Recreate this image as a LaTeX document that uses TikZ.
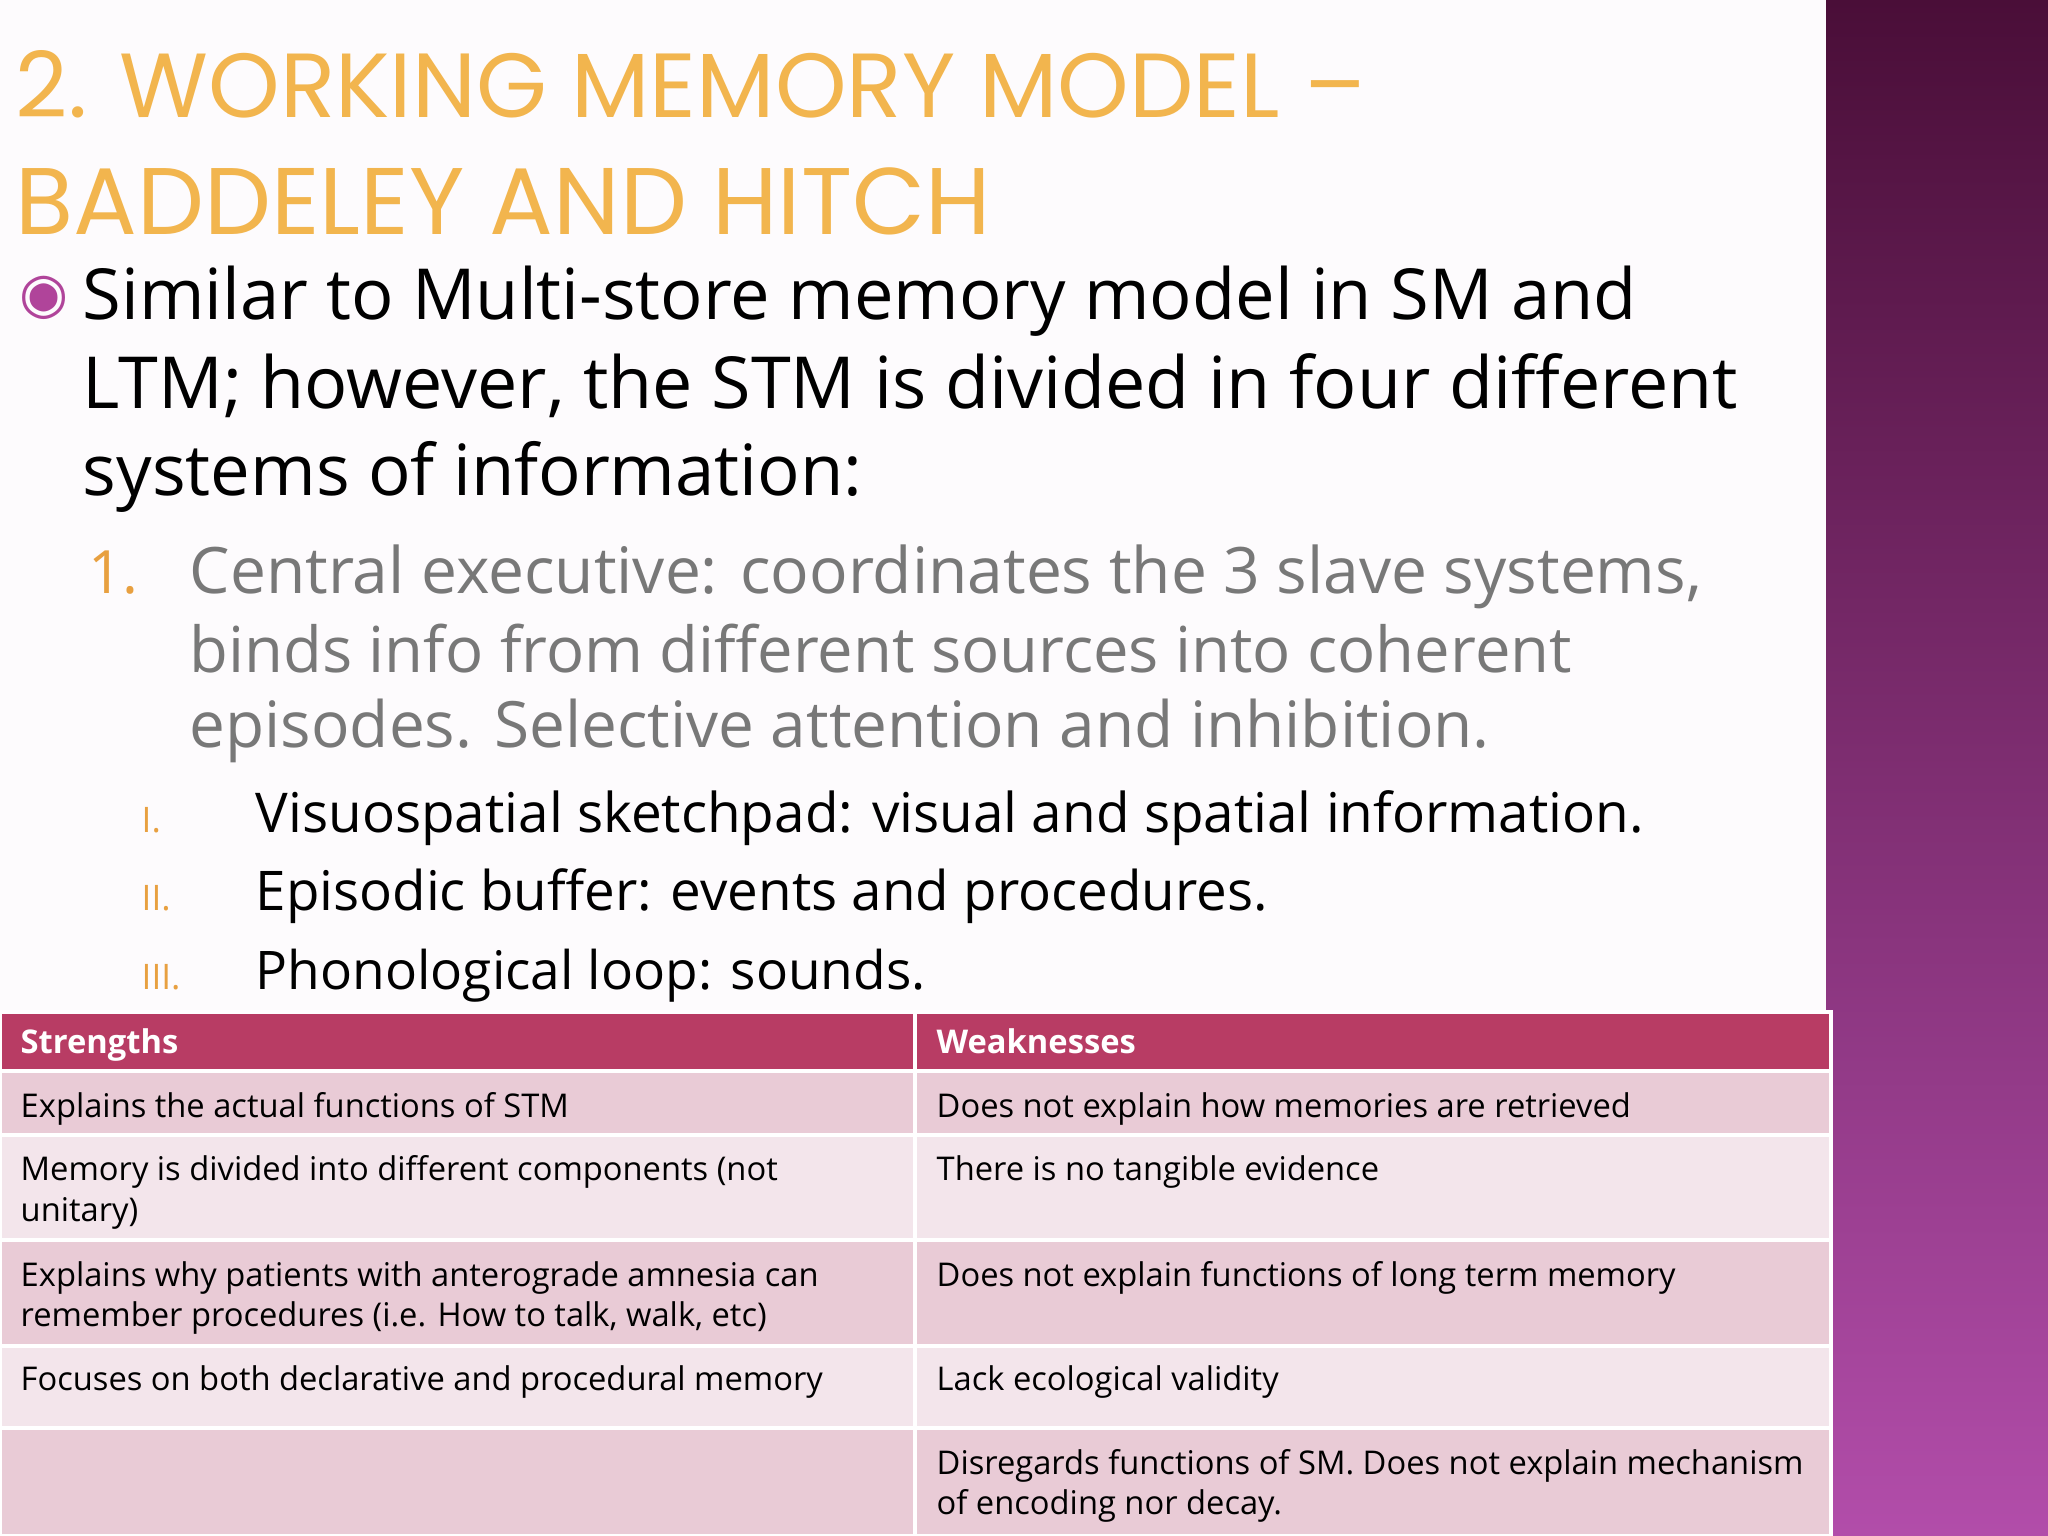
\documentclass[tikz,border=0pt]{standalone}
\usepackage{fontspec}
\setmainfont{Open Sans}
\newfontfamily\titlefont{Poppins}
\newfontfamily\symfont{DejaVu Sans}
\usepackage{graphicx}
\definecolor{bandtop}{HTML}{4A0E38}
\definecolor{bandbot}{HTML}{B24DAA}
\definecolor{titlec}{HTML}{F2B54E}
\definecolor{grayt}{HTML}{787878}
\definecolor{orng}{HTML}{E8A040}
\definecolor{magb}{HTML}{B0449A}
\definecolor{hdr}{HTML}{B83C64}
\definecolor{rowd}{HTML}{E9CBD6}
\definecolor{rowl}{HTML}{F3E5EB}
\tikzset{
 ln/.style={anchor=base west, inner sep=0pt},
 cell/.style={anchor=base west, inner sep=0pt, font=\fontsize{9.3}{11}\selectfont},
 hcell/.style={cell, text=white},
 rowbox/.style={draw=white, line width=1.2pt},
}
\newcommand{\fitw}[2]{\resizebox{#1cm}{!}{#2}}
\begin{document}
\begin{tikzpicture}[x=1cm,y=-1cm]
\useasboundingbox (0,0) rectangle (20.48,15.36);
\fill[white!98!magb] (0,0) rectangle (18.26,15.36);
\shade[top color=bandtop, bottom color=bandbot] (18.26,0) rectangle (20.48,15.36);
% title
\node[ln, text=titlec] (t1) at (0.15,1.18) {\fitw{13.5}{\titlefont 2. WORKING MEMORY MODEL –}};
\node[ln, text=titlec] (t2) at (0.15,2.35) {\fitw{9.75}{\titlefont BADDELEY AND HITCH}};
% bullet text
\node[text=magb, inner sep=0pt] (bul) at (0.44,2.98) {\symfont\fontsize{16}{16}\selectfont ◉};
\node[ln] (b1) at (0.82,3.20) {\fitw{15.54}{Similar to Multi-store memory model in SM and}};
\node[ln] (b2) at (0.82,4.09) {\fitw{16.55}{LTM; however, the STM is divided in four different}};
\node[ln] (b3) at (0.82,4.96) {\fitw{7.8}{systems of information:}};
% numbered
\node[ln, text=orng, font=\fontsize{17}{17}\selectfont] (n1) at (0.875,5.94) {1.};
\node[ln, text=grayt] (g1) at (1.89,5.94) {\fitw{15.12}{Central executive: coordinates the 3 slave systems,}};
\node[ln, text=grayt] (g2) at (1.89,6.73) {\fitw{13.82}{binds info from different sources into coherent}};
\node[ln, text=grayt] (g3) at (1.89,7.48) {\fitw{13.0}{episodes. Selective attention and inhibition.}};
% roman
\node[ln, text=orng, font=\fontsize{10}{10}\selectfont] (r1) at (1.41,8.32) {I.};
\node[ln, text=orng, font=\fontsize{10}{10}\selectfont] (r2) at (1.41,9.10) {II.};
\node[ln, text=orng, font=\fontsize{10}{10}\selectfont] (r3) at (1.41,9.89) {III.};
\node[ln] (v1) at (2.55,8.32) {\fitw{13.88}{Visuospatial sketchpad: visual and spatial information.}};
\node[ln] (v2) at (2.55,9.10) {\fitw{10.12}{Episodic buffer: events and procedures.}};
\node[ln] (v3) at (2.55,9.89) {\fitw{6.7}{Phonological loop: sounds.}};
% table
\fill[white] (0,10.10) rectangle (18.31,15.36);
\foreach \ya/\yb/\c in {10.12/10.71/hdr, 10.71/11.35/rowd, 11.35/12.40/rowl, 12.40/13.46/rowd, 13.46/14.28/rowl, 14.28/15.36/rowd}{
  \filldraw[fill=\c, rowbox] (0,\ya) rectangle (9.15,\yb);
  \filldraw[fill=\c, rowbox] (9.15,\ya) rectangle (18.31,\yb);
}
\node[hcell] (h1) at (0.2,10.53) {\bfseries Strengths};
\node[hcell] (h2) at (9.36,10.53) {\bfseries Weaknesses};
\node[cell] (s1) at (0.2,11.17) {Explains the actual functions of STM};
\node[cell] (w1) at (9.36,11.17) {Does not explain how memories are retrieved};
\node[cell] (s2a) at (0.2,11.80) {Memory is divided into different components (not};
\node[cell] (s2b) at (0.2,12.21) {unitary)};
\node[cell] (w2) at (9.36,11.80) {There is no tangible evidence};
\node[cell] (s3a) at (0.2,12.86) {Explains why patients with anterograde amnesia can};
\node[cell] (s3b) at (0.2,13.26) {remember procedures (i.e. How to talk, walk, etc)};
\node[cell] (w3) at (9.36,12.86) {Does not explain functions of long term memory};
\node[cell] (s4) at (0.2,13.90) {Focuses on both declarative and procedural memory};
\node[cell] (w4) at (9.36,13.90) {Lack ecological validity};
\node[cell] (w5a) at (9.36,14.74) {Disregards functions of SM. Does not explain mechanism};
\node[cell] (w5b) at (9.36,15.14) {of encoding nor decay.};
\end{tikzpicture}
\end{document}
